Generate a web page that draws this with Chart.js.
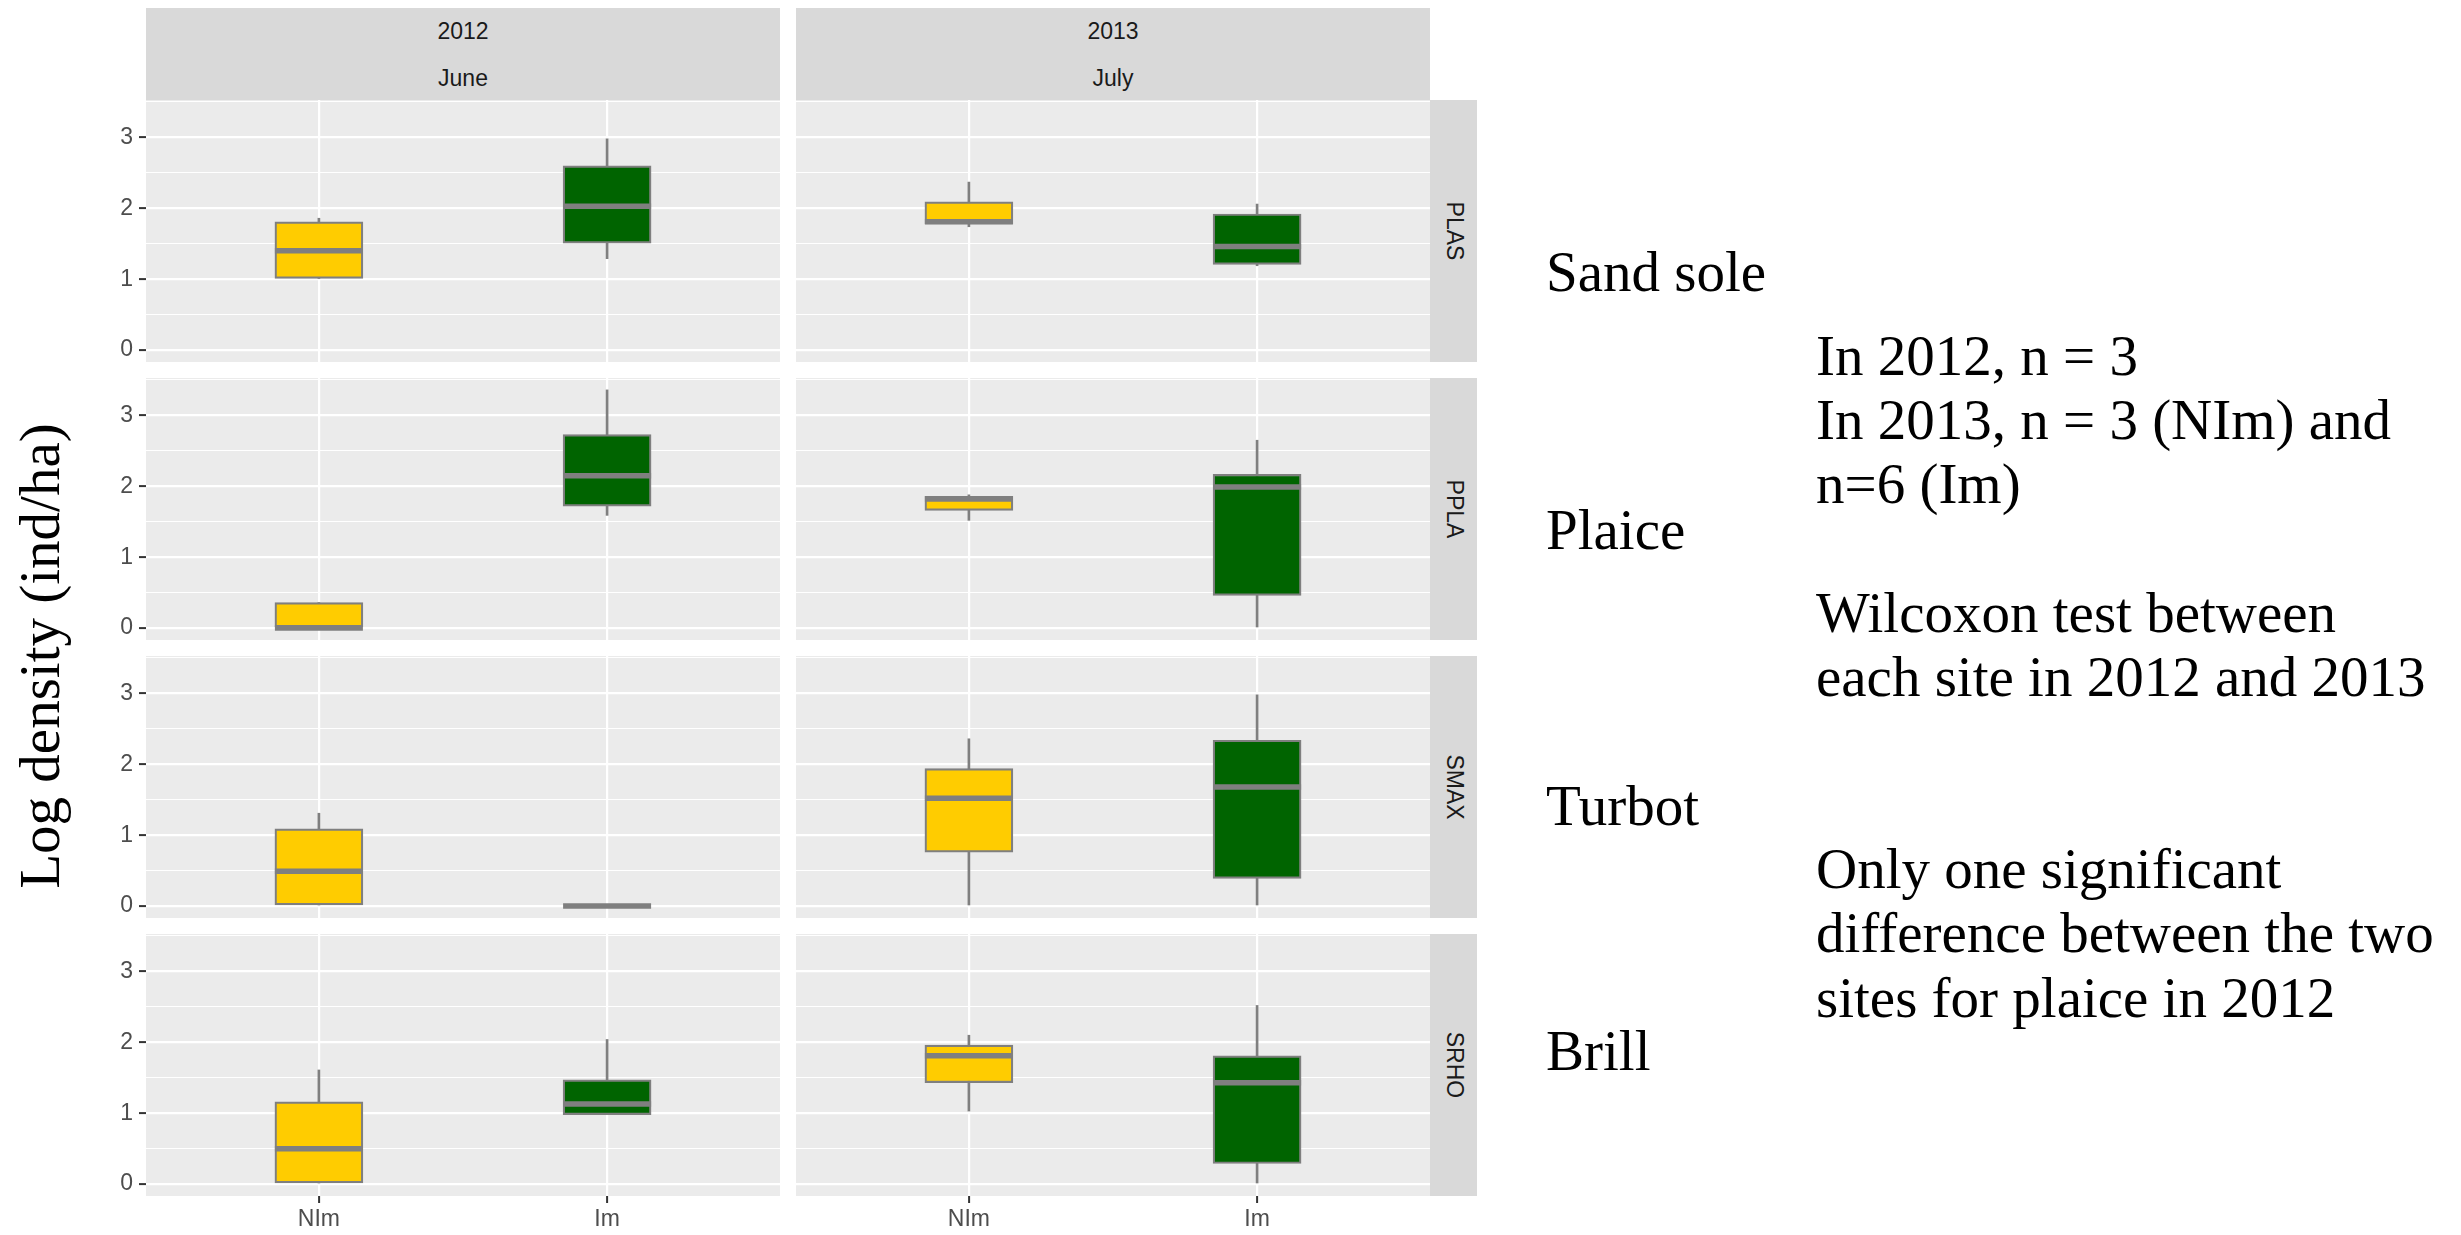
<!DOCTYPE html>
<html>
<head>
<meta charset="utf-8">
<script src="https://cdn.jsdelivr.net/npm/chart.js@4.4.1/dist/chart.umd.min.js"></script>
<style>
  body { margin: 0; width: 2461px; height: 1235px; background: #fff; position: relative; overflow: hidden; font-family: "Liberation Sans", Arial, sans-serif; }
  canvas { position: absolute; }
  .strip { position: absolute; background: #d9d9d9; color: #1a1a1a; font-size: 23px; }
  .strip div { position: absolute; left: 0; right: 0; text-align: center; transform: translateY(-50%); }
  .strip span { position: absolute; left: 50%; top: 50%; transform: translate(-50%, -50%) rotate(90deg); white-space: nowrap; }
  .note { position: absolute; font-family: "Liberation Serif", serif; font-size: 57px; color: #000; white-space: nowrap; transform: translateY(-50%); }
  #ylab { position: absolute; left: 39px; top: 656px; font-family: "Liberation Serif", serif; font-size: 57px; white-space: nowrap; transform: translate(-50%, -50%) rotate(-90deg); }
</style>
</head>
<body>
<div id="ylab">Log density (ind/ha)</div>
<script>
const sites = ['NIm', 'Im'];
const years = ['2012', '2013'];
const months = ['June', 'July'];
const species = ['PLAS', 'PPLA', 'SMAX', 'SRHO'];
const yTickValues = [0, 0.5, 1, 1.5, 2, 2.5, 3, 3.5];

// panels in reading order: PLAS 2012, PLAS 2013, PPLA 2012, PPLA 2013, SMAX 2012, ...
// each entry is [NIm, Im]
const whiskerLow  = [[1.01, 1.29], [1.74, 1.19], [0.00, 1.59], [1.52, 0.00], [0.00, 0.00], [0.00, 0.00], [0.00, 0.98], [1.03, 0.00]];
const boxLow      = [[1.01, 1.51], [1.78, 1.21], [0.00, 1.72], [1.66, 0.46], [0.00, 0.00], [0.76, 0.39], [0.00, 0.98], [1.43, 0.29]];
const medians     = [[1.40, 2.03], [1.81, 1.46], [0.00, 2.15], [1.82, 1.99], [0.49, 0.00], [1.52, 1.68], [0.50, 1.13], [1.81, 1.43]];
const boxHigh     = [[1.81, 2.60], [2.09, 1.92], [0.36, 2.73], [1.86, 2.17], [1.09, 0.00], [1.94, 2.34], [1.16, 1.47], [1.96, 1.81]];
const whiskerHigh = [[1.86, 2.98], [2.37, 2.06], [0.36, 3.36], [1.88, 2.65], [1.31, 0.00], [2.36, 2.98], [1.61, 2.04], [2.10, 2.52]];

const fishNames = ['Sand sole', 'Plaice', 'Turbot', 'Brill'];
const noteLines = [
  'In 2012, n = 3',
  'In 2013, n = 3 (NIm) and',
  'n=6 (Im)',
  'Wilcoxon test between',
  'each site in 2012 and 2013',
  'Only one significant',
  'difference between the two',
  'sites for plaice in 2012'
];

// layout
const panelLeft = [146, 796];
const panelTop = [100, 378, 656, 934];
const panelW = 634, panelH = 262;
const yAxisW = 60, xAxisH = 42;
const fills = ['#ffcc00', '#006400'];
const boxLine = '#7f7f7f';

const panelBg = {
  id: 'panelBg',
  beforeDraw(chart) {
    const a = chart.chartArea, c = chart.ctx;
    c.save();
    c.fillStyle = '#ebebeb';
    c.fillRect(a.left, a.top, a.right - a.left, a.bottom - a.top);
    c.restore();
  }
};

function noPad(s) {
  s.paddingTop = 0;
  s.paddingBottom = 0;
  s.paddingLeft = 0;
  s.paddingRight = 0;
}

function makePanel(row, col) {
  const idx = row * 2 + col;
  const canvas = document.createElement('canvas');
  const w = panelW + (col === 0 ? yAxisW : 0);
  const h = panelH + (row === 3 ? xAxisH : 0);
  canvas.width = w;
  canvas.height = h;
  canvas.style.left = (panelLeft[col] - (col === 0 ? yAxisW : 0)) + 'px';
  canvas.style.top = panelTop[row] + 'px';
  document.body.appendChild(canvas);

  new Chart(canvas.getContext('2d'), {
    type: 'bar',
    data: {
      datasets: [
        {
          label: 'whisker',
          data: sites.map((s, i) => ({ x: i + 1, y: [whiskerLow[idx][i], whiskerHigh[idx][i]] })),
          backgroundColor: boxLine,
          barThickness: 2,
          grouped: false,
          order: 3
        },
        {
          label: 'box',
          data: sites.map((s, i) => ({ x: i + 1, y: [boxLow[idx][i], boxHigh[idx][i]] })),
          backgroundColor: fills,
          borderColor: boxLine,
          borderWidth: 2.2,
          borderSkipped: false,
          barThickness: 88,
          grouped: false,
          order: 2
        },
        {
          type: 'line',
          label: 'median',
          data: sites.map((s, i) => ({ x: i + 1, y: medians[idx][i] })),
          showLine: false,
          pointStyle: 'line',
          pointRadius: 44,
          pointHoverRadius: 44,
          pointBorderWidth: 5.5,
          pointBorderColor: boxLine,
          order: 1
        }
      ]
    },
    options: {
      responsive: false,
      animation: false,
      devicePixelRatio: 1,
      layout: { padding: 0, autoPadding: false },
      plugins: { legend: { display: false }, tooltip: { enabled: false } },
      scales: {
        x: {
          type: 'linear',
          min: 0.4,
          max: 2.6,
          offset: false,
          afterBuildTicks: s => { s.ticks = sites.map((_, i) => ({ value: i + 1 })); },
          afterFit: s => { s.height = row === 3 ? xAxisH : 0; noPad(s); },
          border: { display: false },
          grid: { offset: false, color: '#ffffff', lineWidth: 2.2, drawTicks: row === 3, tickLength: 7, tickColor: '#333333', tickWidth: 2 },
          ticks: {
            display: row === 3,
            callback: v => sites[v - 1],
            color: '#4d4d4d',
            font: { size: 23, family: 'Liberation Sans' },
            padding: 3,
            autoSkip: false,
            maxRotation: 0
          }
        },
        y: {
          type: 'linear',
          min: -0.168,
          max: 3.528,
          afterBuildTicks: s => { s.ticks = yTickValues.map(v => ({ value: v })); },
          afterFit: s => { s.width = col === 0 ? yAxisW : 0; noPad(s); },
          border: { display: false },
          grid: {
            color: '#ffffff',
            lineWidth: ctx => (ctx.tick && Number.isInteger(ctx.tick.value)) ? 2.2 : 1.1,
            drawTicks: col === 0,
            tickLength: 7,
            tickWidth: 2,
            tickColor: ctx => (ctx.tick && Number.isInteger(ctx.tick.value)) ? '#333333' : 'rgba(0,0,0,0)'
          },
          ticks: {
            display: col === 0,
            callback: v => Number.isInteger(v) ? String(v) : '',
            color: '#4d4d4d',
            font: { size: 23, family: 'Liberation Sans' },
            padding: 6
          }
        }
      }
    },
    plugins: [panelBg]
  });
}

for (let r = 0; r < species.length; r++) {
  for (let c = 0; c < years.length; c++) makePanel(r, c);
}

// top strips (year / month)
years.forEach((y, c) => {
  const d = document.createElement('div');
  d.className = 'strip';
  d.style.left = panelLeft[c] + 'px';
  d.style.top = '8px';
  d.style.width = panelW + 'px';
  d.style.height = (panelTop[0] - 8) + 'px';
  d.innerHTML = '<div style="top:23px">' + y + '</div><div style="top:70px">' + months[c] + '</div>';
  document.body.appendChild(d);
});

// right strips (species codes)
species.forEach((s, r) => {
  const d = document.createElement('div');
  d.className = 'strip';
  d.style.left = (panelLeft[1] + panelW) + 'px';
  d.style.top = panelTop[r] + 'px';
  d.style.width = '47px';
  d.style.height = panelH + 'px';
  d.innerHTML = '<span>' + s + '</span>';
  document.body.appendChild(d);
});

// annotation text on the right
const nameY = [271, 529, 805, 1050];
fishNames.forEach((n, i) => {
  const d = document.createElement('div');
  d.className = 'note';
  d.style.left = '1546px';
  d.style.top = nameY[i] + 'px';
  d.textContent = n;
  document.body.appendChild(d);
});
const noteY = [355, 419, 483, 612, 676, 868, 932, 997];
noteLines.forEach((t, i) => {
  const d = document.createElement('div');
  d.className = 'note';
  d.style.left = '1816px';
  d.style.top = noteY[i] + 'px';
  d.textContent = t;
  document.body.appendChild(d);
});
</script>
</body>
</html>
